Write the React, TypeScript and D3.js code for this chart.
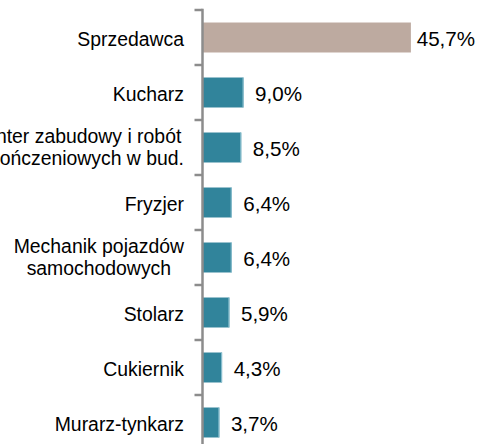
import React, { useEffect, useRef } from "react";
import * as d3 from "d3";

const categories: string[] = [
  "Sprzedawca",
  "Kucharz",
  "Monter zabudowy i robót\nwykończeniowych w bud.",
  "Fryzjer",
  "Mechanik pojazdów\nsamochodowych",
  "Stolarz",
  "Cukiernik",
  "Murarz-tynkarz",
];
const values: number[] = [45.7, 9.0, 8.5, 6.4, 6.4, 5.9, 4.3, 3.7];
const valueLabels: string[] = ["45,7%", "9,0%", "8,5%", "6,4%", "6,4%", "5,9%", "4,3%", "3,7%"];
const highlighted: string[] = ["Sprzedawca"];

const W = 477;
const H = 444;
const FONT = "'Liberation Sans', Arial, sans-serif";

export default function App() {
  const ref = useRef<SVGSVGElement | null>(null);

  useEffect(() => {
    const svg = d3.select(ref.current);
    svg.selectAll("*").remove();

    const x = d3.scaleLinear().domain([0, 50]).range([202.5, 430.5]);
    const y = d3
      .scaleBand<string>()
      .domain(categories)
      .range([10, 450])
      .paddingInner(0.455)
      .paddingOuter(0.2275);
    const step = y.step();
    const bw = y.bandwidth();

    const data = categories.map((c, i) => ({ c, v: values[i], l: valueLabels[i] }));

    // bars
    svg
      .append("g")
      .selectAll("rect")
      .data(data)
      .join("rect")
      .attr("x", x(0))
      .attr("y", (d) => y(d.c)!)
      .attr("width", (d) => x(d.v) - x(0))
      .attr("height", bw)
      .attr("fill", (d) => (highlighted.includes(d.c) ? "#BDAAA0" : "#31849B"));

    // light right edge on teal bars
    svg
      .append("g")
      .selectAll("line")
      .data(data.filter((d) => !highlighted.includes(d.c)))
      .join("line")
      .attr("x1", (d) => x(d.v) - 0.5)
      .attr("x2", (d) => x(d.v) - 0.5)
      .attr("y1", (d) => y(d.c)!)
      .attr("y2", (d) => y(d.c)! + bw)
      .attr("stroke", "#8FC3D2")
      .attr("stroke-width", 1);

    // axis line and ticks
    const axisG = svg.append("g");
    const boundaries = categories.map((c) => y(c)! + bw / 2 - step / 2);
    boundaries.push(y(categories[categories.length - 1])! + bw / 2 + step / 2);
    axisG
      .selectAll("line.tick")
      .data(boundaries)
      .join("line")
      .attr("class", "tick")
      .attr("x1", x(0) - 8)
      .attr("x2", x(0))
      .attr("y1", (d) => d)
      .attr("y2", (d) => d)
      .attr("stroke", "#8C8C8C")
      .attr("stroke-width", 2.5);
    axisG
      .append("line")
      .attr("x1", x(0))
      .attr("x2", x(0))
      .attr("y1", boundaries[0] - 1.25)
      .attr("y2", boundaries[boundaries.length - 1])
      .attr("stroke", "#8C8C8C")
      .attr("stroke-width", 2.5);

    // value labels
    svg
      .append("g")
      .selectAll("text")
      .data(data)
      .join("text")
      .attr("x", (d) => x(d.v) + 35)
      .attr("y", (d) => y(d.c)! + bw / 2 + 8)
      .attr("text-anchor", "middle")
      .attr("font-family", FONT)
      .attr("font-size", 20.6)
      .attr("fill", "#000")
      .text((d) => d.l);

    // category labels
    const labelRight = 184;
    const lineH = 21.5;
    const lg = svg.append("g");
    data.forEach((d) => {
      const lines = d.c.split("\n");
      const cy = y(d.c)! + bw / 2;
      const t = lg
        .append("text")
        .attr("font-family", FONT)
        .attr("font-size", 19.4)
        .attr("fill", "#000");
      if (lines.length === 1) {
        t.attr("x", labelRight).attr("y", cy + 8).attr("text-anchor", "end").text(lines[0]);
      } else {
        const base = cy + 8 - ((lines.length - 1) * lineH) / 2 - 1.5;
        const spans = lines.map((ln, i) =>
          t.append("tspan").attr("y", base + i * lineH).text(ln)
        );
        let maxW = 0;
        spans.forEach((s) => {
          const n = s.node() as SVGTextContentElement;
          maxW = Math.max(maxW, n.getComputedTextLength());
        });
        const cx = labelRight - maxW / 2;
        t.attr("text-anchor", "middle");
        spans.forEach((s) => s.attr("x", cx));
      }
    });
  }, []);

  return (
    <svg
      ref={ref}
      width={W}
      height={H}
      style={{ position: "absolute", left: 0, top: 0, background: "#fff" }}
    />
  );
}
